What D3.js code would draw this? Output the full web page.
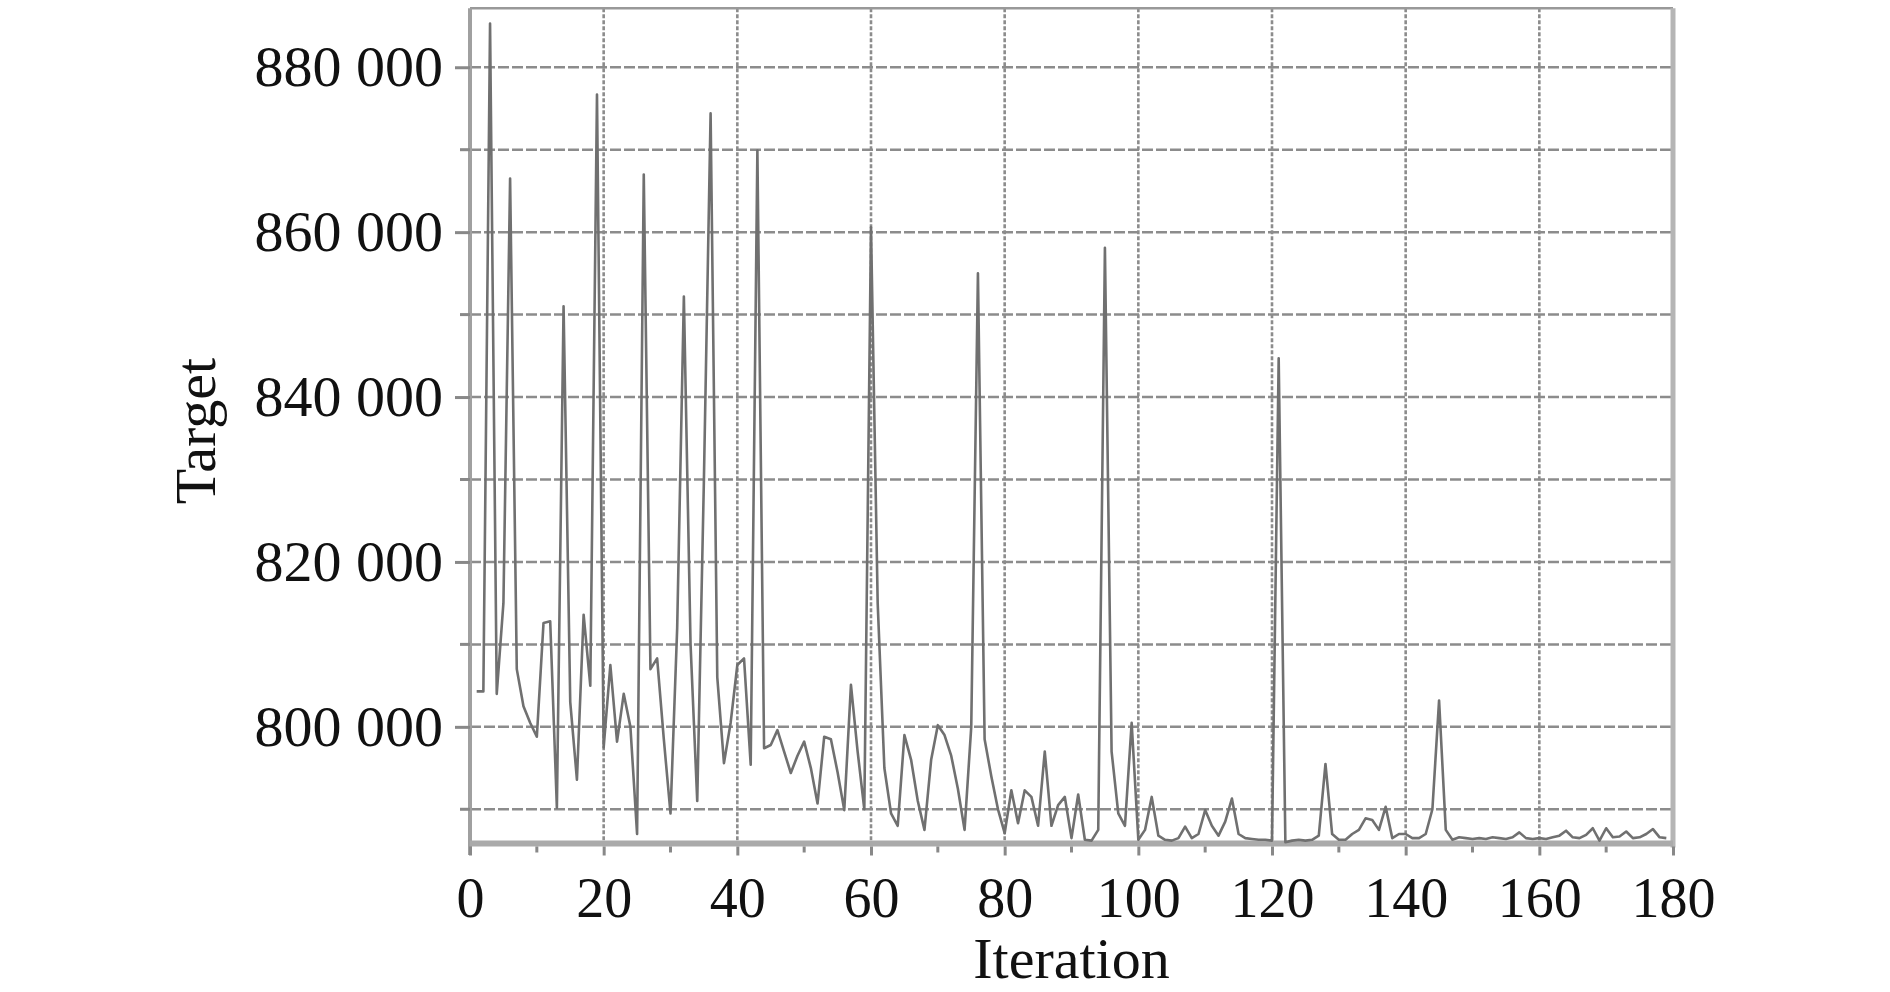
<!DOCTYPE html>
<html>
<head>
<meta charset="utf-8">
<script src="https://cdn.jsdelivr.net/npm/d3@7"></script>
<style>
  body { margin: 0; background: #fff; }
  svg { display: block; }
  text { font-family: "Liberation Serif", "Times New Roman", serif; fill: #111; }
</style>
</head>
<body>
<svg id="chart" width="1890" height="992"></svg>
<script>
// target value per iteration, starting at iteration 1
var firstIteration = 1;
var target = [
  804300, 804300, 885300, 804000, 815000, 866500, 807000, 802500, 800500, 798800,
  812600, 812800, 790200, 851000, 803000, 793600, 813600, 805000, 876700, 797500,
  807500, 798200, 804000, 800000, 787000, 867000, 807000, 808300, 798500, 789500,
  812000, 852200, 810000, 791000, 830000, 874400, 806000, 795600, 800500, 807500,
  808300, 795400, 869900, 797400, 797800, 799600, 797000, 794400, 796500, 798200,
  795000, 790700, 798800, 798500, 794500, 789900, 805100, 797000, 790000, 860600,
  815000, 795000, 789500, 788000, 799000, 796000, 791000, 787500, 796000, 800200,
  799000, 796500, 792500, 787500, 800000, 855000, 798500, 794000, 790000, 787100,
  792300, 788300, 792300, 791500, 788000, 797000, 788000, 790500, 791500, 786500,
  791800, 786300, 786200, 787500, 858100, 797000, 789500, 788000, 800500, 786300,
  787500, 791500, 786800, 786300, 786200, 786500, 787900, 786500, 787000, 789900,
  788000, 786800, 788500, 791300, 787000, 786500, 786400, 786300, 786300, 786200,
  844700, 786000, 786200, 786300, 786200, 786300, 786800, 795500, 787000, 786300,
  786300, 787000, 787500, 788900, 788700, 787500, 790300, 786500, 787000, 787000,
  786500, 786500, 787000, 790000, 803200, 787500, 786300, 786600, 786500, 786400,
  786500, 786400, 786600, 786500, 786400, 786600, 787200, 786500, 786400, 786500,
  786400, 786600, 786800, 787400, 786600, 786500, 786900, 787700, 786200, 787700,
  786600, 786700, 787300, 786500, 786600, 787000, 787600, 786600, 786500
];

var xTicks = [0, 20, 40, 60, 80, 100, 120, 140, 160, 180];
var xMinor = [10, 30, 50, 70, 90, 110, 130, 150, 170];
var yTicks = [800000, 820000, 840000, 860000, 880000];
var yGrid = [790000, 800000, 810000, 820000, 830000, 840000, 850000, 860000, 870000, 880000];

var svg = d3.select("#chart");

var plotLeft = 470, plotRight = 1673, plotTop = 8.3, plotBottom = 843.5;

var x = d3.scaleLinear().domain([0, 180]).range([plotLeft, plotRight]);
var y = d3.scaleLinear().domain([785850, 887150]).range([plotBottom, plotTop]);

var fmt = d3.formatLocale({decimal: ".", thousands: " ", grouping: [3], currency: ["", ""]}).format(",");

// horizontal grid
svg.append("g").selectAll("line")
  .data(yGrid)
  .enter().append("line")
    .attr("x1", plotLeft).attr("x2", plotRight)
    .attr("y1", function(d) { return y(d); })
    .attr("y2", function(d) { return y(d); })
    .style("stroke", "#8c8c8c")
    .style("stroke-width", 2.5)
    .style("stroke-dasharray", "11,3");

// vertical grid
svg.append("g").selectAll("line")
  .data(xTicks.slice(1, -1))
  .enter().append("line")
    .attr("x1", function(d) { return x(d); })
    .attr("x2", function(d) { return x(d); })
    .attr("y1", plotTop).attr("y2", plotBottom)
    .style("stroke", "#8c8c8c")
    .style("stroke-width", 2.6)
    .style("stroke-dasharray", "4,2");

// frame
svg.append("line").attr("x1", plotLeft).attr("x2", plotRight).attr("y1", plotTop).attr("y2", plotTop)
  .style("stroke", "#999").style("stroke-width", 2.5);
svg.append("line").attr("x1", plotRight).attr("x2", plotRight).attr("y1", plotTop).attr("y2", plotBottom + 4)
  .style("stroke", "#b5b5b5").style("stroke-width", 5);
svg.append("line").attr("x1", plotLeft).attr("x2", plotLeft).attr("y1", plotTop).attr("y2", 855)
  .style("stroke", "#a0a0a0").style("stroke-width", 4);

// y axis ticks and labels
var yAxis = svg.append("g").attr("transform", "translate(" + plotLeft + ",0)")
  .call(d3.axisLeft(y).tickValues(yTicks).tickFormat(fmt).tickSize(15).tickPadding(12));
yAxis.select(".domain").remove();
yAxis.selectAll(".tick line").style("stroke", "#888").style("stroke-width", 3);
yAxis.selectAll("text").style("font-size", "58px").style("fill", "#111")
  .style("font-family", "'Liberation Serif', serif");

svg.append("g").selectAll("line")
  .data(yGrid.filter(function(d) { return yTicks.indexOf(d) < 0; }))
  .enter().append("line")
    .attr("x1", plotLeft - 10).attr("x2", plotLeft)
    .attr("y1", function(d) { return y(d); })
    .attr("y2", function(d) { return y(d); })
    .style("stroke", "#888").style("stroke-width", 3);

// bottom axis band
svg.append("line").attr("x1", plotLeft).attr("x2", plotRight).attr("y1", plotBottom).attr("y2", plotBottom)
  .style("stroke", "#aaa").style("stroke-width", 6);

var xAxis = svg.append("g").attr("transform", "translate(0," + (plotBottom + 3) + ")")
  .call(d3.axisBottom(x).tickValues(xTicks).tickSize(9).tickPadding(22));
xAxis.select(".domain").remove();
xAxis.selectAll(".tick line").style("stroke", "#888").style("stroke-width", 3);
xAxis.selectAll("text").style("font-size", "56px").style("fill", "#111")
  .style("font-family", "'Liberation Serif', serif");

svg.append("g").selectAll("line")
  .data(xMinor)
  .enter().append("line")
    .attr("x1", function(d) { return x(d); })
    .attr("x2", function(d) { return x(d); })
    .attr("y1", plotBottom + 3).attr("y2", plotBottom + 9)
    .style("stroke", "#888").style("stroke-width", 3);

// data line
var line = d3.line()
  .x(function(d, i) { return x(i + firstIteration); })
  .y(function(d) { return y(d); });

svg.append("path")
  .datum(target)
  .attr("d", line)
  .style("fill", "none")
  .style("stroke", "#707070")
  .style("stroke-width", 2.6)
  .style("stroke-linejoin", "round");

// axis titles
svg.append("text")
  .attr("x", (plotLeft + plotRight) / 2)
  .attr("y", 978)
  .attr("text-anchor", "middle")
  .style("font-size", "58px")
  .text("Iteration");

svg.append("text")
  .attr("transform", "translate(215,431) rotate(-90)")
  .attr("text-anchor", "middle")
  .style("font-size", "58px")
  .text("Target");
</script>
</body>
</html>
